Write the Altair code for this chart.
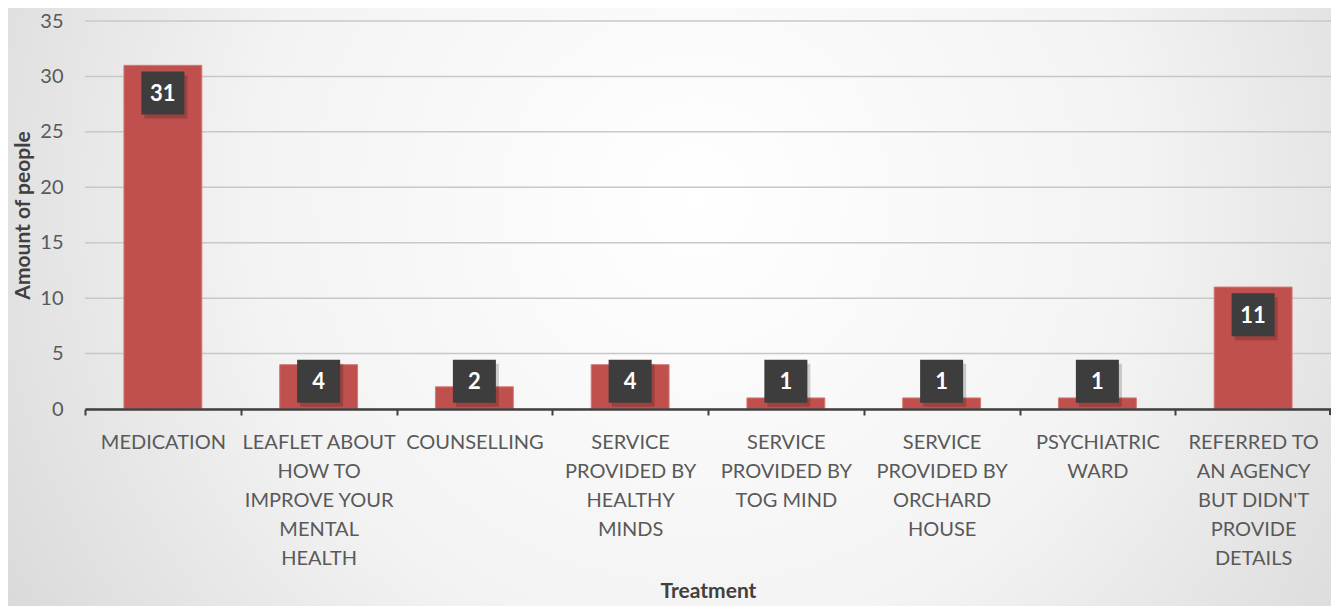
import altair as alt
import pandas as pd

categories = [
    "MEDICATION",
    "LEAFLET ABOUT|HOW TO|IMPROVE YOUR|MENTAL|HEALTH",
    "COUNSELLING",
    "SERVICE|PROVIDED BY|HEALTHY|MINDS",
    "SERVICE|PROVIDED BY|TOG MIND",
    "SERVICE|PROVIDED BY|ORCHARD|HOUSE",
    "PSYCHIATRIC|WARD",
    "REFERRED TO|AN AGENCY|BUT DIDN'T|PROVIDE|DETAILS",
]
values = [31, 4, 2, 4, 1, 1, 1, 11]
y_ticks = [0, 5, 10, 15, 20, 25, 30, 35]

df = pd.DataFrame({"cat": categories, "v": values})
grid_df = pd.DataFrame({"t": y_ticks})

W, H = 1246, 388
PL, PT, PR, PB = 77, 13, 0, 198
FONT = "Lato"

xscale = alt.Scale(paddingInner=0, paddingOuter=0)
yscale = alt.Scale(domain=[0, 35], nice=False)

xaxis = alt.Axis(labelAngle=0, labelExpr="split(datum.label, '|')",
                 labelFont=FONT, labelFontSize=20, labelColor="#595959",
                 labelLineHeight=29, labelPadding=17, labelBaseline="top",
                 labelLimit=300, zindex=1,
                 domainColor="#404040", domainWidth=2.5,
                 ticks=True, tickBand="extent", tickColor="#404040",
                 tickWidth=2, tickSize=6,
                 titleFont=FONT, titleFontSize=21, titleFontWeight="bold",
                 titleColor="#404040", titlePadding=12, grid=False)
yaxis = alt.Axis(values=y_ticks, domain=False, ticks=False, grid=False, zindex=1,
                 labelFont=FONT, labelFontSize=20, labelColor="#595959",
                 labelPadding=22,
                 titleFont=FONT, titleFontSize=21, titleFontWeight="bold",
                 titleColor="#404040", titlePadding=6)

bg = alt.Chart(alt.Data(values=[{"a": 1}])).mark_rect(
    fill={"gradient": "radial", "x1": 0.52, "y1": 0.42, "r1": 0,
          "x2": 0.52, "y2": 0.42, "r2": 0.75,
          "stops": [{"offset": 0, "color": "#ffffff"},
                    {"offset": 0.45, "color": "#f3f3f3"},
                    {"offset": 1, "color": "#cccccc"}]},
    clip=False,
).encode(x=alt.value(-PL), x2=alt.value(W + PR), y=alt.value(-PT), y2=alt.value(H + PB))

grid = alt.Chart(grid_df).mark_rule(color="#c8c8c8", strokeWidth=1.5).encode(
    y=alt.Y("t:Q", scale=yscale, title="Amount of people", axis=yaxis))

base = alt.Chart(df)

bars = base.mark_bar(color="#C0504D", stroke="#d27a77", strokeWidth=1,
                     width=alt.RelativeBandSize(0.5)).encode(
    x=alt.X("cat:N", sort=categories, title="Treatment", scale=xscale, axis=xaxis),
    y=alt.Y("v:Q", scale=yscale, title="Amount of people", axis=yaxis),
)

lab = base.transform_calculate(ly="max(datum.v - 2.5, 2.5)")

shadow = lab.mark_square(size=1850, color="#000000", opacity=0.18, xOffset=3, yOffset=4).encode(
    x=alt.X("cat:N", sort=categories), y=alt.Y("ly:Q", scale=yscale))
box = lab.mark_square(size=1850, color="#3d3d3d", opacity=1).encode(
    x=alt.X("cat:N", sort=categories), y=alt.Y("ly:Q", scale=yscale))
txt = lab.mark_text(color="white", font=FONT, fontSize=22, fontWeight="bold",
                    baseline="middle", align="center", dy=1).encode(
    x=alt.X("cat:N", sort=categories), y=alt.Y("ly:Q", scale=yscale), text="v:Q")

end_tick = alt.Chart(alt.Data(values=[{"a": 1}])).mark_rule(
    color="#404040", strokeWidth=2, clip=False).encode(
    x=alt.value(W - 1), y=alt.value(H), y2=alt.value(H + 6))

chart = alt.layer(bg, grid, bars, shadow, box, txt, end_tick).properties(
    width=W, height=H,
    autosize=alt.AutoSizeParams(type="none"),
    padding={"left": PL, "top": PT, "right": PR, "bottom": PB},
    background="#ffffff",
).configure_view(stroke=None)

chart.save("out.html", embed_options={"renderer": "svg", "actions": False})
